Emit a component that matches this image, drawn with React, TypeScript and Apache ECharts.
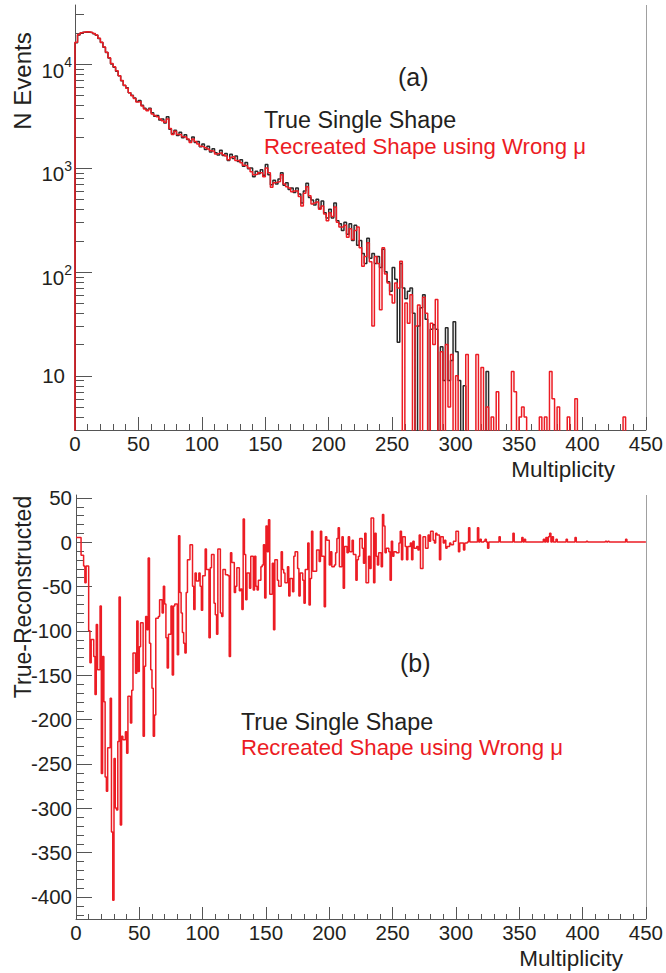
import React, { useEffect, useRef } from 'react';
import * as echarts from 'echarts';

// ---------------- data ----------------
const TOP_BIN_WIDTH = 2; // multiplicity units per bin, panel (a)
const BOTTOM_BIN_WIDTH = 1; // multiplicity units per bin, panel (b)
const X_MAX = 450;

// panel (a): true single shape, counts per bin (bins start at 0, 2, 4, ...)
const trueShape = [
  16000, 19000, 19800, 20200, 20300, 20200, 20000, 19600, 18900, 17600,
  16100, 14500, 12900, 11400, 10000, 9300, 8500, 7700, 6900, 6200,
  5900, 5300, 5000, 4700, 4350, 4450, 4000, 3750, 3600, 3750,
  3400, 3150, 3200, 2900, 2950, 2700, 3100, 2350, 2150, 2300,
  2050, 2200, 1950, 2080, 1880, 1820, 1980, 1760, 1800, 1600,
  1700, 1500, 1620, 1420, 1530, 1400, 1330, 1480, 1320, 1380,
  1180, 1350, 1230, 1300, 1150, 1200, 1040, 1130, 980, 1000,
  820, 930, 880, 960, 850, 1080, 860, 690, 760, 700,
  780, 900, 680, 720, 620, 640, 580, 640, 560, 460,
  600, 710, 520, 490, 440, 500, 410, 480, 370, 330,
  400, 330, 460, 310, 290, 250, 300, 230, 290, 200,
  280, 180, 200, 150, 120, 210, 135, 150, 120, 140,
  110, 165, 100, 80, 65, 110, 85, 21, 120, 70,
  55, 65, 70, 40, 0, 30, 45, 60, 35, 0,
  28, 31, 28, 0, 19, 9, 29, 9, 14, 33,
  17, 9, 0, 8, 0, 0, 0, 0, 0, 0,
  0, 0, 11, 0, 0, 0, 0, 0, 0, 0,
  0, 0, 0, 0, 0, 0, 0, 0, 0, 0,
  0, 0, 0, 0, 0, 0, 0, 0, 0, 0,
  0, 0, 0, 0, 0, 0, 0, 0, 0, 0,
  0, 0, 0, 0, 0, 0, 0, 0, 0, 0,
  0, 0, 0, 0, 0, 0, 0, 0, 0, 0,
  0, 0, 0, 0, 0,
];

// panel (a): recreated shape using wrong mu
const recreatedShape = [
  16200, 19200, 20000, 20300, 20400, 20300, 20100, 19700, 19000, 17700,
  16200, 14600, 13000, 11500, 10100, 9400, 8600, 7700, 6950, 6250,
  5850, 5300, 4950, 4650, 4300, 4350, 3950, 3700, 3550, 3700,
  3300, 3200, 3100, 2950, 2850, 2750, 2950, 2400, 2100, 2250,
  2100, 2100, 2000, 1980, 1900, 1760, 1900, 1800, 1700, 1620,
  1600, 1560, 1520, 1460, 1450, 1360, 1380, 1400, 1340, 1300,
  1200, 1260, 1280, 1180, 1180, 1120, 1060, 1050, 1000, 920,
  860, 870, 900, 900, 820, 1000, 900, 650, 720, 730,
  740, 860, 700, 660, 640, 590, 600, 600, 530, 430,
  570, 660, 540, 450, 460, 470, 400, 430, 360, 310,
  370, 340, 420, 300, 270, 270, 280, 215, 260, 205,
  250, 270, 170, 113, 140, 190, 125, 30, 140, 120,
  43, 170, 95, 78, 60, 50, 78, 70, 126, 0,
  50, 32, 60, 0, 30, 48, 0, 57, 40, 0,
  32, 20, 54, 0, 17, 0, 20, 5, 16, 0,
  10, 0, 0, 0, 16, 0, 0, 0, 16, 0,
  12, 0, 5, 0, 4, 0, 7, 0, 0, 0,
  0, 0, 11, 7, 0, 4, 5, 4, 0, 0,
  0, 0, 0, 4, 0, 4, 0, 11, 6, 0,
  5, 0, 0, 0, 4, 0, 0, 6, 0, 0,
  0, 0, 0, 0, 0, 0, 0, 0, 0, 0,
  0, 0, 0, 0, 0, 0, 4, 0, 0, 0,
  0, 0, 0, 0, 0,
];

// panel (b): True - Reconstructed, one value per unit bin (0..449)
const residual = [
  5, 5, 5, 5, -15, -15, -27, -46, -27, -27,
  -100, -136, -110, -110, -129, -172, -93, -144, -144, -72,
  -261, -129, -180, -265, -281, -232, -232, -176, -327, -404,
  -244, -300, -302, -225, -62, -319, -219, -223, -223, -214,
  -238, -174, -174, -204, -167, -125, -125, -148, -89, -146,
  -118, -91, -91, -219, -140, -84, -99, -18, -114, -144,
  -165, -219, -195, -86, -86, -84, -65, -65, -80, -50,
  -70, -108, -142, -104, -104, -72, -150, -72, -70, -70,
  -127, 7, -57, -80, -102, -114, -125, -57, -20, -20,
  -3, -3, -50, -76, -35, -44, -44, -35, -50, -77,
  -38, -38, -8, -31, -31, -108, -29, -14, -14, -69,
  -82, -104, -8, -8, -80, -84, -31, -31, -37, -37,
  -38, -129, -12, -23, -23, -57, -50, -29, -29, -55,
  -53, -76, 26, -14, -65, -35, -35, -52, -16, -16,
  -54, -16, -50, -54, -43, -43, -28, -26, -3, -63,
  18, -11, 25, -59, -59, -24, -99, -20, -20, -43,
  -50, -50, -11, -31, -35, -46, -46, -28, -61, -41,
  -41, -56, -16, -11, -11, -30, -61, -35, -35, -43,
  -69, -31, -31, -1, -71, -41, 12, -33, -33, -33,
  -9, -9, -22, 12, -16, -16, -73, 6, 2, 2,
  -26, -11, -28, -28, -26, -12, 4, 16, -28, -28,
  6, -52, -5, -5, -12, 6, -11, -11, 2, -14,
  -14, -43, -20, -16, 4, 4, -7, -24, 10, -46,
  -46, -16, -30, 27, 27, -46, 10, -16, -26, -12,
  -12, -28, 31, 18, -12, -7, -7, -11, -43, 1,
  -16, -11, -11, -12, -12, -1, 12, -20, 6, 6,
  -5, -20, -5, -5, -1, -20, 1, -7, -7, -5,
  -9, 8, -30, -30, 6, 6, -7, -7, 8, 1,
  12, 12, 2, -1, 10, 8, 8, -20, 6, 6,
  -1, 2, -7, -5, -5, -1, -3, -3, 1, 1,
  12, 12, -11, -1, -1, -1, -9, -1, -1, 0,
  16, 0, 0, 0, 0, 0, 0, 16, 0, 3,
  0, 0, 1, 3, 0, -7, 0, 0, 0, 0,
  0, 0, 0, 0, 6, 0, 0, 0, 0, 0,
  0, 0, 0, 0, 0, 10, 0, 0, 0, 0,
  0, 0, 5, 0, 3, 0, 0, 0, 0, 0,
  0, 0, 0, 0, 0, 0, 0, 0, 0, 3,
  0, 5, 0, 6, 10, 0, 6, 0, 0, 3,
  0, 0, 0, 0, 0, 0, 0, 3, 0, 0,
  0, 0, 0, 0, 5, 0, 0, 0, 0, 0,
  0, 0, 0, 1, 0, 0, 0, 0, 0, 0,
  0, 0, 0, 0, 0, 0, 0, 0, 1, 0,
  1, 0, 0, 0, 0, 0, 0, 0, 0, 0,
  0, 0, 0, 0, 3, 0, 0, 0, 0, 0,
  0, 0, 0, 0, 0, 0, 0, 0, 0, 0,
];

const TOP_Y_MIN = 3;
const TOP_Y_MAX = 37000;
const TOP_DECADES = [10, 100, 1000, 10000];
const BOTTOM_Y_MIN = -425;
const BOTTOM_Y_MAX = 53;
const BOTTOM_TICK_STEP = 10;
const BOTTOM_MAJOR_STEP = 50;

const LEGEND_TRUE = 'True Single Shape';
const LEGEND_RECO = 'Recreated Shape using Wrong μ';

// ---------------- styles ----------------
const FONT = "'Liberation Sans', Arial, Helvetica, sans-serif";
const TEXT = '#231f20';
const AXIS = '#555555';
const BLACK = '#2a2a2a';
const RED = '#ec1c24';

function logStep(values: number[], width: number, floor: number) {
  const pts: [number, number][] = [[0, floor]];
  values.forEach((v, i) => pts.push([i * width, v > 0 ? v : floor]));
  const last = values[values.length - 1];
  pts.push([values.length * width, last > 0 ? last : floor]);
  return pts;
}

function linStep(values: number[], width: number) {
  const pts: [number, number][] = values.map((v, i) => [i * width, v]);
  pts.push([values.length * width, values[values.length - 1]]);
  return pts;
}

export default function App() {
  const ref = useRef<HTMLDivElement>(null);

  useEffect(() => {
    if (!ref.current) return;
    const chart = echarts.init(ref.current, null, { renderer: 'svg' });

    const xAxisCommon = (gridIndex: number, major: number, minor: number, margin: number) => ({
      gridIndex,
      type: 'value',
      min: 0,
      max: X_MAX,
      interval: 50,
      axisLine: { show: true, onZero: false, lineStyle: { color: AXIS, width: 1 } },
      axisTick: { show: true, inside: true, length: major, lineStyle: { color: AXIS } },
      minorTick: { show: true, splitNumber: 5, length: minor, lineStyle: { color: AXIS } },
      splitLine: { show: false },
      axisLabel: { fontSize: 20.5, color: TEXT, fontFamily: FONT, margin },
    });

    chart.setOption({
      animation: false,
      grid: [
        { left: 75, top: 5, width: 572, height: 425 },
        { left: 76, top: 495, width: 571, height: 424 },
      ],
      xAxis: [xAxisCommon(0, 13, 6, 3), xAxisCommon(1, 12, 5, 3)],
      yAxis: [
        {
          gridIndex: 0,
          type: 'log',
          logBase: 10,
          min: TOP_Y_MIN,
          max: TOP_Y_MAX,
          axisLine: { show: true, onZero: false, lineStyle: { color: AXIS, width: 1 } },
          axisTick: { show: false },
          splitLine: { show: false },
          axisLabel: {
            margin: 3,
            showMinLabel: false,
            showMaxLabel: false,
            padding: [12, 0, 0, 0],
            formatter: (v: number) => {
              const e = Math.round(Math.log10(v));
              if (e === 1) return '{p|10}';
              return '{m|10}{s|' + e + '}';
            },
            rich: {
              m: { fontSize: 20.5, lineHeight: 20, fontFamily: FONT, color: TEXT },
              s: { fontSize: 14, lineHeight: 14, fontFamily: FONT, color: TEXT, padding: [0, 0, 16, 0] },
              p: { fontSize: 20.5, lineHeight: 20, fontFamily: FONT, color: TEXT, padding: [0, 7, 12, 0] },
            },
          },
        },
        {
          gridIndex: 1,
          type: 'value',
          min: BOTTOM_Y_MIN,
          max: BOTTOM_Y_MAX,
          splitNumber: 10,
          axisLine: { show: true, onZero: false, lineStyle: { color: AXIS, width: 1 } },
          axisTick: { show: false },
          splitLine: { show: false },
          axisLabel: {
            margin: 4,
            fontSize: 20.5,
            color: TEXT,
            fontFamily: FONT,
            showMinLabel: false,
            showMaxLabel: false,
          },
        },
      ],
      series: [
        {
          type: 'line',
          xAxisIndex: 0,
          yAxisIndex: 0,
          step: 'end',
          symbol: 'none',
          clip: true,
          data: logStep(trueShape, TOP_BIN_WIDTH, 0.5),
          lineStyle: { color: BLACK, width: 1.5 },
        },
        {
          type: 'line',
          xAxisIndex: 0,
          yAxisIndex: 0,
          step: 'end',
          symbol: 'none',
          clip: true,
          data: logStep(recreatedShape, TOP_BIN_WIDTH, 0.5),
          lineStyle: { color: RED, width: 1.5 },
        },
        {
          type: 'line',
          xAxisIndex: 1,
          yAxisIndex: 1,
          step: 'end',
          symbol: 'none',
          clip: true,
          data: linStep(residual, BOTTOM_BIN_WIDTH),
          lineStyle: { color: RED, width: 1.5 },
        },
      ],
    });

    // ---- ticks & frame drawn from the axes' own scales ----
    const px = (axis: string, idx: number, v: number) =>
      chart.convertToPixel({ [axis]: idx } as any, v) as unknown as number;
    const crisp = (v: number) => Math.round(v) + 0.5;
    const els: any[] = [];
    const line = (x1: number, y1: number, x2: number, y2: number, color = AXIS) =>
      els.push({
        type: 'line',
        silent: true,
        shape: { x1, y1, x2, y2 },
        style: { stroke: color, lineWidth: 1 },
      });

    // top log axis ticks
    const tx0 = px('xAxisIndex', 0, 0);
    for (let d = 1; d <= 10000; d *= 10) {
      for (let k = 1; k <= 9; k++) {
        const v = k * d;
        if (v < TOP_Y_MIN || v > TOP_Y_MAX) continue;
        const y = crisp(px('yAxisIndex', 0, v));
        const len = TOP_DECADES.includes(v) ? 17 : 9;
        line(tx0, y, tx0 + len, y);
      }
    }
    // bottom linear axis ticks
    const bx0 = px('xAxisIndex', 1, 0);
    for (let v = Math.ceil(BOTTOM_Y_MIN / BOTTOM_TICK_STEP) * BOTTOM_TICK_STEP; v <= BOTTOM_Y_MAX; v += BOTTOM_TICK_STEP) {
      const y = crisp(px('yAxisIndex', 1, v));
      const len = v % BOTTOM_MAJOR_STEP === 0 ? 16 : 8;
      line(bx0, y, bx0 + len, y);
    }
    // right frame lines
    const tx1 = crisp(px('xAxisIndex', 0, X_MAX));
    line(tx1, px('yAxisIndex', 0, TOP_Y_MAX), tx1, px('yAxisIndex', 0, TOP_Y_MIN), '#a0a0a0');
    const bx1 = crisp(px('xAxisIndex', 1, X_MAX));
    line(bx1, px('yAxisIndex', 1, BOTTOM_Y_MAX), bx1, px('yAxisIndex', 1, BOTTOM_Y_MIN), '#a0a0a0');

    const text = (t: string, x: number, y: number, size: number, color: string, align: string, rotation = 0) =>
      els.push({
        type: 'text',
        x,
        y,
        rotation,
        silent: true,
        style: {
          text: t,
          fontSize: size,
          fontFamily: FONT,
          fill: color,
          align,
          textAlign: align,
          verticalAlign: 'middle',
          textVerticalAlign: 'middle',
        },
      });

    text('N Events', 22, 81, 24, TEXT, 'center', Math.PI / 2);
    text('True-Reconstructed', 23, 597, 23, TEXT, 'center', Math.PI / 2);
    text('Multiplicity', 615, 469, 22.5, TEXT, 'right');
    text('Multiplicity', 623, 958, 22.5, TEXT, 'right');
    text('(a)', 398, 77, 25, TEXT, 'left');
    text(LEGEND_TRUE, 264, 120, 23.3, TEXT, 'left');
    text(LEGEND_RECO, 264, 146, 22.2, RED, 'left');
    text('(b)', 400, 663, 25, TEXT, 'left');
    text(LEGEND_TRUE, 241, 722, 23.3, TEXT, 'left');
    text(LEGEND_RECO, 241, 747, 22.2, RED, 'left');

    chart.setOption({ graphic: els });

    return () => chart.dispose();
  }, []);

  return (
    <div
      ref={ref}
      style={{ position: 'absolute', left: 0, top: 0, width: 666, height: 973, background: '#fff' }}
    />
  );
}
